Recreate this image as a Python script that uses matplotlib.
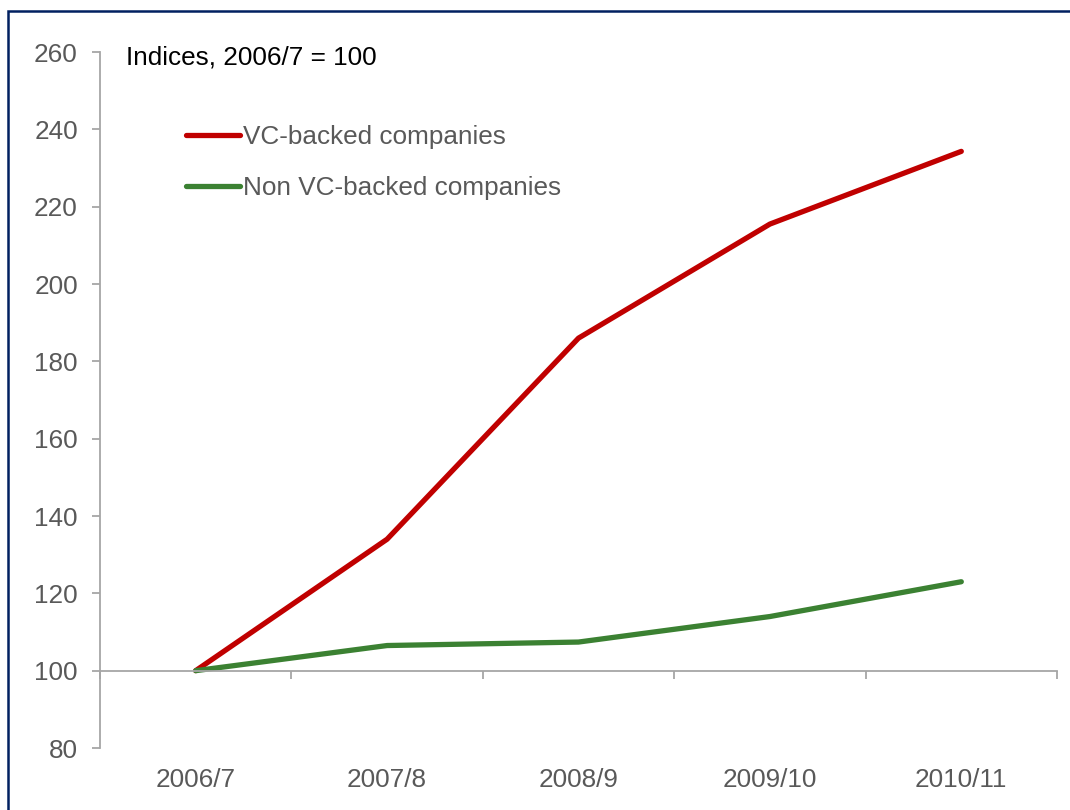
import matplotlib
matplotlib.use("Agg")
import matplotlib.pyplot as plt
from matplotlib.patches import Rectangle

plt.rcParams['font.family'] = ['Liberation Sans', 'DejaVu Sans']

periods = ['2006/7', '2007/8', '2008/9', '2009/10', '2010/11']
vc_backed = [100, 134, 186, 215.5, 234.3]
non_vc_backed = [100, 106.5, 107.4, 114, 123]

grey_text = '#595959'
axis_grey = '#A6A6A6'
fs = 18.8

fig = plt.figure(figsize=(10.7, 8.1), dpi=100)
ax = fig.add_axes([100/1070, 1 - 748/810, (1057 - 100)/1070, (748 - 52)/810])

x = list(range(len(periods)))
ax.plot(x, vc_backed, color='#C00000', lw=3.8, solid_capstyle='round',
        label='VC-backed companies')
ax.plot(x, non_vc_backed, color='#3B8132', lw=3.8, solid_capstyle='round',
        label='Non VC-backed companies')

ax.set_xlim(-0.5, len(periods) - 0.5)
ax.set_ylim(80, 260)
ax.set_yticks(range(80, 261, 20))

for s in ['top', 'right']:
    ax.spines[s].set_visible(False)
ax.spines['left'].set_color(axis_grey)
ax.spines['left'].set_linewidth(1.3)
ax.spines['bottom'].set_position(('data', 100))
ax.spines['bottom'].set_color(axis_grey)
ax.spines['bottom'].set_linewidth(1.3)

ax.tick_params(axis='y', direction='out', length=6, width=1.3, color=axis_grey,
               labelsize=fs, labelcolor=grey_text, pad=10)
ax.set_xticks(x)
ax.set_xticklabels(periods)
ax.set_xticks([i - 0.5 for i in range(len(periods) + 1)], minor=True)
ax.tick_params(axis='x', which='major', length=0, labelsize=fs,
               labelcolor=grey_text, pad=70)
ax.tick_params(axis='x', which='minor', direction='out', length=6, width=1.3,
               color=axis_grey)
ax.set_zorder(1)

fig.text(126/1070, 1 - 57/810, 'Indices, 2006/7 = 100', fontsize=fs,
         color='black', va='center', ha='left')

leg = ax.legend(loc='upper left', bbox_to_anchor=(186/1070, 1 - 125/810),
                bbox_transform=fig.transFigure, frameon=False, fontsize=fs,
                handlelength=2.05, handletextpad=0.15, labelspacing=1.05,
                borderpad=0, borderaxespad=0)
for t in leg.get_texts():
    t.set_color(grey_text)

fig.patches.append(Rectangle((8/1070, -0.05), 1.1, 1.05 - 11/810,
                             transform=fig.transFigure, fill=False,
                             edgecolor='#002060', linewidth=1.8))

fig.savefig('out.png', dpi=100)
